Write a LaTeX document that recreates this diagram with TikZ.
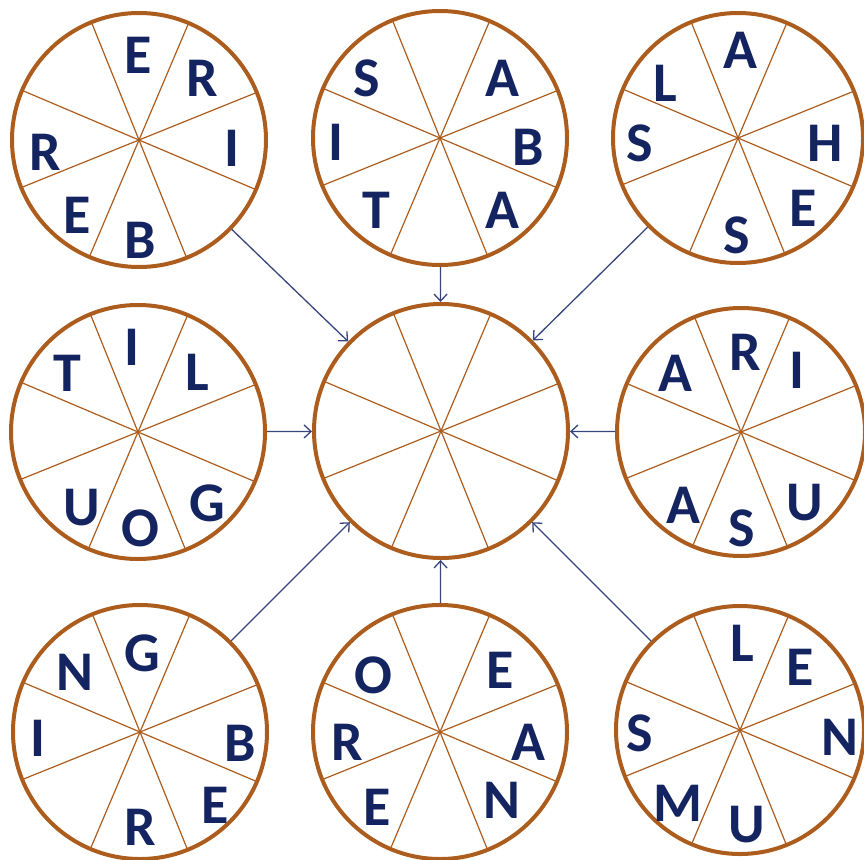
\documentclass[tikz,border=0pt]{standalone}
\usepackage{fontspec}
\setmainfont{Carlito}
\usetikzlibrary{arrows.meta}
\definecolor{ringc}{RGB}{172,92,28}
\definecolor{letterc}{RGB}{20,36,96}
\definecolor{arrc}{RGB}{55,68,125}
\begin{document}
\begin{tikzpicture}[x=1pt,y=-1pt,
  wheel/.style={circle, draw=ringc, line width=4pt, inner sep=0pt, minimum size=#1},
  spoke/.style={draw=ringc, line width=1.2pt, shorten <=2pt, shorten >=2pt},
  letter/.style={text=letterc, font=\fontsize{56}{56}\selectfont\bfseries, inner sep=0pt},
  conn/.style={draw=arrc, line width=1.3pt, -{Straight Barb[length=7pt,width=13pt]}}]
\useasboundingbox (0,0) rectangle (864,859);
% wheels
\foreach \n/\x/\y/\d in {tl/139/140/254, tm/440/138/254, tr/738/138/250,
  ml/138/432/254, c/441/431/254, mr/741/432/248,
  bl/140/732/254, bm/440/732/254, br/740/730/248}{
  \node[wheel=\d pt] (\n) at (\x,\y) {};
  \foreach \a in {22.5,67.5,112.5,157.5}{
    \pgfmathsetmacro{\b}{\a+180}
    \draw[spoke] (\n.\a) -- (\n.\b);
  }
}
% letters top-left
\node[letter] (tl1) at (138,55) {E};
\node[letter] (tl2) at (202,78) {R};
\node[letter] (tl3) at (232,148) {I};
\node[letter] (tl4) at (45,152) {R};
\node[letter] (tl5) at (77,215) {E};
\node[letter] (tl6) at (140,240) {B};
% top-middle
\node[letter] (tm1) at (367,78) {S};
\node[letter] (tm2) at (502,78) {A};
\node[letter] (tm3) at (336,142) {I};
\node[letter] (tm4) at (528,147) {B};
\node[letter] (tm5) at (376,210) {T};
\node[letter] (tm6) at (502,210) {A};
% top-right
\node[letter] (tr1) at (740,50) {A};
\node[letter] (tr2) at (665,83) {L};
\node[letter] (tr3) at (640,143) {S};
\node[letter] (tr4) at (825,143) {H};
\node[letter] (tr5) at (803,208) {E};
\node[letter] (tr6) at (737,235) {S};
% middle-left
\node[letter] (ml1) at (132,347) {I};
\node[letter] (ml2) at (67,373) {T};
\node[letter] (ml3) at (197,372) {L};
\node[letter] (ml4) at (82,508) {U};
\node[letter] (ml5) at (140,528) {O};
\node[letter] (ml6) at (207,503) {G};
% middle-right
\node[letter] (mr1) at (745,352) {R};
\node[letter] (mr2) at (675,373) {A};
\node[letter] (mr3) at (797,370) {I};
\node[letter] (mr4) at (683,505) {A};
\node[letter] (mr5) at (742,528) {S};
\node[letter] (mr6) at (805,503) {U};
% bottom-left
\node[letter] (bl1) at (142,653) {G};
\node[letter] (bl2) at (75,672) {N};
\node[letter] (bl3) at (38,738) {I};
\node[letter] (bl4) at (240,743) {B};
\node[letter] (bl5) at (215,805) {E};
\node[letter] (bl6) at (140,827) {R};
% bottom-middle
\node[letter] (bm1) at (373,675) {O};
\node[letter] (bm2) at (500,670) {E};
\node[letter] (bm3) at (347,742) {R};
\node[letter] (bm4) at (528,742) {A};
\node[letter] (bm5) at (377,807) {E};
\node[letter] (bm6) at (502,800) {N};
% bottom-right
\node[letter] (br1) at (742,643) {L};
\node[letter] (br2) at (800,667) {E};
\node[letter] (br3) at (640,733) {S};
\node[letter] (br4) at (840,737) {N};
\node[letter] (br5) at (678,803) {M};
\node[letter] (br6) at (747,825) {U};
% connectors
\foreach \n in {tl,tm,tr,ml,mr,bl,bm,br}{
  \draw[conn] (\n) -- (c);
}
\end{tikzpicture}
\end{document}
